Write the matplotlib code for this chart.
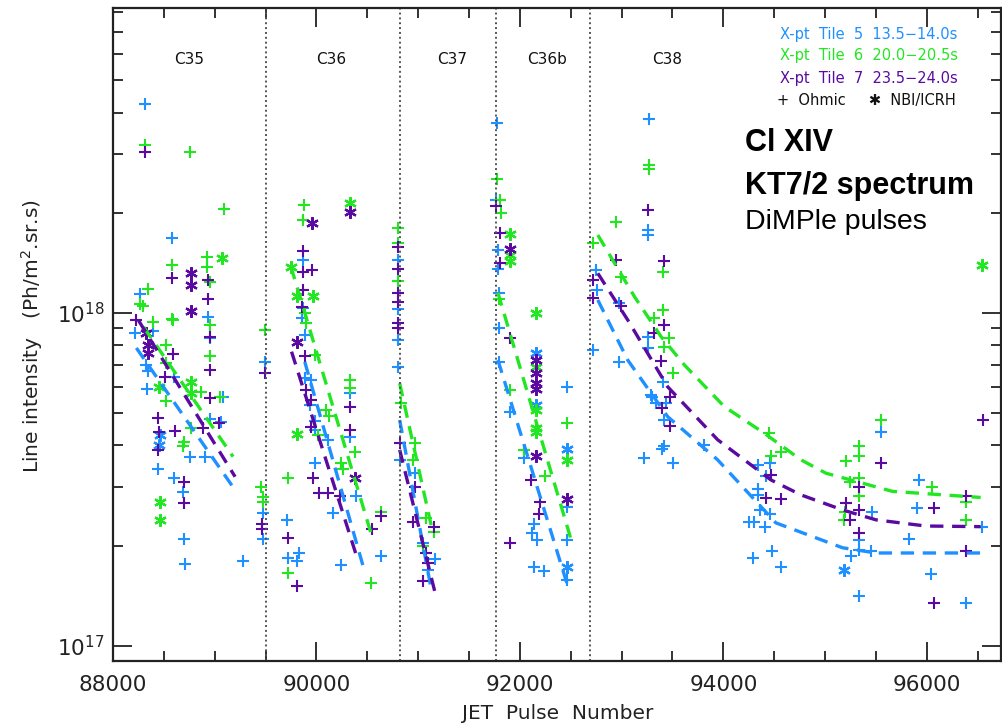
import matplotlib
matplotlib.use('Agg')
import matplotlib.pyplot as plt
from matplotlib.ticker import MultipleLocator, LogLocator, NullFormatter

# colours of the three time windows
BLUE = '#1e90ff'
GREEN = '#22e622'
PURPLE = '#5a0aa0'

# values: (pulse number, intensity in 1e18 Ph/m2.sr.s)
# ---- X-pt Tile 5 13.5-14.0s (blue)
blue_ohm_x = [88314, 88582, 88262, 88213, 88393, 88327, 88345, 88337, 88599, 88442,
              88599, 88687, 88694, 88704, 88756, 88900, 88933, 88949, 88949, 89080,
              89064, 89277, 89490, 89473, 89473,
              89869, 89869, 89860, 89890, 89890, 89951, 89934, 89984, 89984, 90114,
              89984, 90327, 90327, 90163, 90393, 89706, 89722, 89812, 89830, 90246,
              90639,
              90800, 90800, 90800, 90800, 90818, 90966, 91047, 91162, 91096,
              91774, 91770, 91780, 91780, 91790, 91790, 91790, 91899, 92039, 92140,
              92120, 92140, 92240, 92170, 92465, 92465, 92465, 92465,
              93267, 93257, 93257, 92750, 92760, 92717, 92979, 92979, 93257, 93257,
              93404, 93290, 93300, 93340, 93440, 93414, 93414, 93400, 93807, 93217,
              93502, 94340, 94460, 94420, 94340, 94340, 94255, 94300, 94360, 94460,
              94410, 94288, 94478, 94565, 95548, 95466, 95335, 95253, 95335, 95450,
              95335, 95925, 95908, 95826, 96039, 96383, 96546]
blue_ohm_y = [4.26, 1.68, 1.14, 0.87, 0.88, 0.70, 0.67, 0.59, 0.64, 0.34,
              0.32, 0.29, 0.21, 0.176, 0.37, 0.37, 0.97, 0.84, 0.48, 0.56,
              0.47, 0.18, 0.71, 0.25, 0.21,
              1.44, 1.035, 0.966, 0.859, 0.638, 0.629, 0.53, 0.472, 0.445, 0.416,
              0.353, 0.574, 0.425, 0.25, 0.281, 0.239, 0.183, 0.18, 0.19, 0.175,
              0.186,
              1.44, 1.03, 0.83, 0.69, 0.362, 0.33, 0.204, 0.182, 0.169,
              3.71, 2.18, 1.55, 1.36, 1.15, 0.90, 0.714, 0.505, 0.366, 0.233,
              0.218, 0.173, 0.168, 0.208, 0.60, 0.262, 0.208, 0.158,
              3.83, 1.77, 1.72, 1.35, 1.17, 0.774, 1.07, 0.714, 0.849, 0.783,
              0.622, 0.567, 0.56, 0.535, 0.535, 0.477, 0.398, 0.39, 0.401, 0.366,
              0.353, 0.349, 0.353, 0.323, 0.284, 0.295, 0.236, 0.236, 0.256, 0.248,
              0.228, 0.183, 0.192, 0.173, 0.44, 0.253, 0.208, 0.186, 0.194, 0.192,
              0.141, 0.315, 0.26, 0.21, 0.164, 0.134, 0.228]
blue_nbi_x = [88458, 88450, 92160, 92160, 92465, 92465, 95188]
blue_nbi_y = [0.43, 0.40, 0.76, 0.53, 0.39, 0.173, 0.169]

# ---- X-pt Tile 6 20.0-20.5s (green)
green_ohm_x = [88314, 88756, 89093, 88582, 88582, 88586, 88344, 88262, 88290, 88393,
               88517, 88517, 88517, 88926, 88926, 88949, 88949, 88949, 88867, 89048,
               88690, 88700, 88766, 89490, 89457, 89470, 89470,
               89879, 89863, 89885, 89900, 89984, 90327, 90327, 90098, 90120, 90016,
               90377, 90246, 90260, 89722, 90639, 89716, 90540,
               90800, 90800, 90800, 90835, 90966, 90950, 91080, 91155, 91047,
               91774, 91800, 91810, 91790, 91899, 92039, 92243, 92465,
               93267, 93267, 92946, 92717, 93404, 92995, 93404, 93322, 93470, 93420,
               93502, 94445, 94468, 94565, 95548, 95335, 95335, 95335, 95205, 95250,
               95335, 95200, 95190, 96055, 96383, 96383]
green_ohm_y = [3.19, 3.05, 2.06, 1.39, 0.957, 0.953, 1.18, 1.064, 1.05, 0.94,
               0.80, 0.706, 0.542, 1.47, 1.377, 1.24, 0.92, 0.74, 0.58, 0.56,
               0.397, 0.41, 0.45, 0.889, 0.30, 0.28, 0.27,
               2.11, 1.90, 1.0, 0.93, 0.748, 0.629, 0.594, 0.511, 0.49, 0.43,
               0.383, 0.353, 0.34, 0.32, 0.253, 0.165, 0.154,
               1.80, 1.62, 1.25, 0.535, 0.406, 0.362, 0.242, 0.22, 0.199,
               2.52, 2.18, 2.0, 1.10, 0.587, 0.387, 0.323, 0.467,
               2.78, 2.70, 1.87, 1.62, 1.33, 1.28, 1.02, 0.964, 0.843, 0.792,
               0.662, 0.435, 0.372, 0.383, 0.477, 0.397, 0.372, 0.319, 0.358, 0.311,
               0.281, 0.253, 0.239, 0.30, 0.271, 0.238]
green_nbi_x = [89073, 88449, 88769, 88769, 88458, 88458, 89748, 89810, 89967, 89810,
               90327, 91899, 91899, 91899, 92160, 92160, 92160, 92160, 92160, 92465,
               96540]
green_nbi_y = [1.46, 0.60, 0.622, 0.574, 0.271, 0.239, 1.37, 1.125, 1.125, 0.433,
               2.14, 1.73, 1.49, 1.43, 1.0, 0.69, 0.512, 0.45, 0.44, 0.362,
               1.39]

# ---- X-pt Tile 7 23.5-24.0s (purple)
purple_ohm_x = [88314, 88582, 88229, 88589, 88507, 88933, 88933, 88949, 88949, 88949,
                88442, 88450, 88442, 88606, 88697, 88697, 88884, 89041, 89490, 89466,
                89460,
                89869, 89869, 89961, 89869, 89860, 89892, 89900, 89951, 89951, 90327,
                90327, 89967, 90023, 90114, 90229, 90639, 90550, 89716, 89810,
                90800, 90800, 90800, 90800, 90800, 90800, 90818, 90966, 90950, 91155,
                91080, 91096, 91047,
                91770, 91800, 91800, 91899, 92111, 92200, 92190, 91899,
                93257, 92946, 93414, 92717, 92717, 92990, 93414, 93322, 93388, 93480,
                93400, 93480, 94468, 94420, 94565, 95548, 95335, 95205, 95250, 95335,
                95335, 96072, 96072, 96383, 96383, 96553]
purple_ohm_y = [3.05, 1.27, 0.953, 0.753, 0.644, 1.26, 1.10, 0.849, 0.674, 0.554,
                0.483, 0.44, 0.388, 0.443, 0.311, 0.269, 0.45, 0.466, 0.659, 0.232,
                0.225,
                1.54, 1.33, 1.35, 1.17, 1.04, 0.74, 0.587, 0.548, 0.455, 0.523,
                0.445, 0.319, 0.288, 0.288, 0.281, 0.245, 0.224, 0.211, 0.151,
                1.58, 1.36, 1.15, 1.08, 0.931, 0.90, 0.406, 0.30, 0.236, 0.228,
                0.19, 0.177, 0.156,
                2.09, 1.74, 1.41, 0.84, 0.315, 0.271, 0.248, 0.204,
                2.04, 1.44, 1.43, 1.256, 1.107, 1.05, 0.92, 0.873, 0.719, 0.56,
                0.518, 0.458, 0.326, 0.278, 0.277, 0.353, 0.30, 0.269, 0.239, 0.256,
                0.218, 0.26, 0.134, 0.281, 0.193, 0.477]
purple_nbi_x = [88769, 88769, 88769, 88327, 88340, 88345, 89961, 90327, 89810, 90377,
                91899, 92160, 92160, 92160, 92160, 92160, 92465]
purple_nbi_y = [1.316, 1.214, 1.016, 0.869, 0.80, 0.76, 1.86, 2.01, 0.817, 0.319,
                1.56, 0.72, 0.66, 0.615, 0.59, 0.372, 0.276]

# dashed fit curves, one list of (pulse, value) per campaign
blue_fits = [
    [(88229, 0.785), (89209, 0.291)],
    [(89885, 0.713), (90474, 0.167)],
    [(90818, 0.477), (91130, 0.147)],
    [(91784, 0.722), (92471, 0.151)],
    [(92766, 1.094), (93060, 0.722), (93453, 0.488), (93944, 0.362), (94517, 0.234),
     (95172, 0.197), (95500, 0.19), (96530, 0.19)],
]
green_fits = [
    [(88300, 0.908), (89180, 0.37)],
    [(89748, 1.38), (90536, 0.218)],
    [(90818, 0.615), (91145, 0.218)],
    [(91784, 1.15), (92504, 0.208)],
    [(92766, 1.715), (93126, 1.12), (93388, 0.849), (93617, 0.698), (94010, 0.523),
     (94403, 0.435), (94763, 0.362), (95009, 0.33), (95663, 0.291), (96530, 0.279)],
]
purple_fits = [
    [(88250, 0.95), (89200, 0.322)],
    [(89755, 0.765), (90409, 0.18)],
    [(90818, 0.388), (91162, 0.146)],
    [(92766, 1.316), (93060, 0.953), (93453, 0.6), (93944, 0.416), (94468, 0.315),
     (94763, 0.284), (95172, 0.256), (95500, 0.239), (95990, 0.229), (96530, 0.228)],
]

campaign_bounds = [89500, 90820, 91770, 92690]
campaign_names = ['C35', 'C36', 'C37', 'C36b', 'C38']
campaign_label_x = [88750, 90140, 91330, 92270, 93450]

legend_rows = ['X-pt  Tile  5  13.5\u221214.0s',
               'X-pt  Tile  6  20.0\u221220.5s',
               'X-pt  Tile  7  23.5\u221224.0s']

SCALE = 1e18


def main():
    fig = plt.figure(figsize=(10.03, 7.25), dpi=100)
    ax = fig.add_axes([0.1127, 0.0883, 0.8853, 0.9007])

    series = [
        (BLUE, blue_ohm_x, blue_ohm_y, blue_nbi_x, blue_nbi_y, blue_fits),
        (GREEN, green_ohm_x, green_ohm_y, green_nbi_x, green_nbi_y, green_fits),
        (PURPLE, purple_ohm_x, purple_ohm_y, purple_nbi_x, purple_nbi_y, purple_fits),
    ]
    for col, ox, oy, nx, ny, fits in series:
        ax.plot(ox, [v * SCALE for v in oy], linestyle='none', marker='+',
                color=col, markersize=9, markeredgewidth=1.5)
        ax.plot(nx, [v * SCALE for v in ny], linestyle='none', marker=(6, 2, 0),
                color=col, markersize=9, markeredgewidth=1.6)
    for col, ox, oy, nx, ny, fits in series:
        for seg in fits:
            ax.plot([p for p, v in seg], [v * SCALE for p, v in seg], color=col,
                    linestyle=(0, (4, 2.6)), linewidth=2.4)

    for b in campaign_bounds:
        ax.axvline(b, color='#555555', linestyle=(0, (1, 1.5)), linewidth=1.4)

    ax.set_yscale('log')
    ax.set_xlim(88000, 96730)
    ax.set_ylim(9.0e16, 8.25e18)

    ax.xaxis.set_major_locator(MultipleLocator(2000))
    ax.xaxis.set_minor_locator(MultipleLocator(500))
    ax.yaxis.set_major_locator(LogLocator(base=10))
    ax.yaxis.set_minor_locator(LogLocator(base=10, subs=range(2, 10)))
    ax.yaxis.set_minor_formatter(NullFormatter())
    ax.tick_params(which='both', direction='in', top=True, right=True,
                   width=1.3, colors='#222222', labelcolor='#222222')
    ax.tick_params(which='major', length=14, labelsize=15.5)
    ax.tick_params(axis='x', which='major', pad=10)
    ax.tick_params(axis='y', which='major', pad=6)
    ax.tick_params(which='minor', length=7)
    for sp in ax.spines.values():
        sp.set_linewidth(1.6)
        sp.set_color('#222222')

    for name, px in zip(campaign_names, campaign_label_x):
        ax.text(px, 0.921, name, transform=ax.get_xaxis_transform(), ha='center',
                va='center', fontsize=11, color='#111111')

    # legend block, top right
    for row, col, yy in zip(legend_rows, [BLUE, GREEN, PURPLE], [0.953, 0.923, 0.892]):
        fig.text(0.955, yy, row, ha='right', va='center', fontsize=10.5, color=col)
    fig.text(0.953, 0.862, '+  Ohmic     \u2731  NBI/ICRH', ha='right', va='center',
             fontsize=10.5, color='#111111')

    fig.text(0.743, 0.803, 'Cl XIV', ha='left', va='center', fontsize=22,
             fontweight='bold', family='Liberation Sans')
    fig.text(0.743, 0.743, 'KT7/2 spectrum', ha='left', va='center', fontsize=22,
             fontweight='bold', family='Liberation Sans')
    fig.text(0.743, 0.694, 'DiMPle pulses', ha='left', va='center', fontsize=20.5,
             family='Liberation Sans')

    fig.text(0.556, 0.016, 'JET  Pulse  Number', ha='center', va='center',
             fontsize=14.5, color='#222222')
    fig.text(0.032, 0.537, 'Line intensity   (Ph/m$^2$.sr.s)', ha='center',
             va='center', rotation=90, fontsize=14.5, color='#222222')

    fig.savefig('out.png', dpi=100)


if __name__ == '__main__':
    main()
